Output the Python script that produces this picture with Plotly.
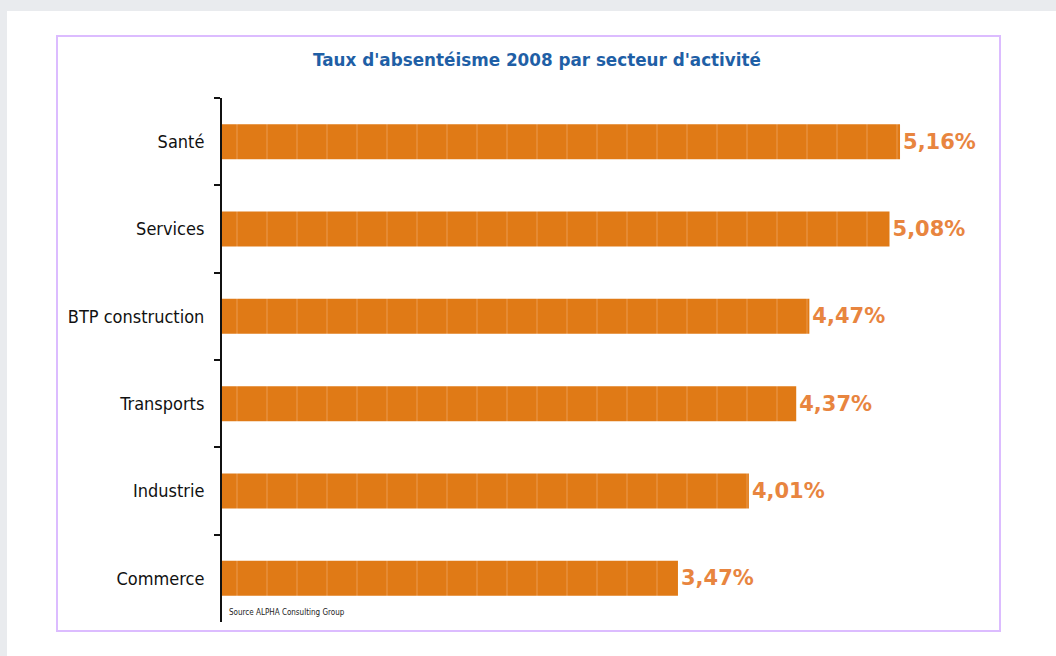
import plotly.graph_objects as go

# Absenteeism rate by business sector, 2008 (%)
sectors = ["Santé", "Services", "BTP construction", "Transports", "Industrie", "Commerce"]
rates = [5.16, 5.08, 4.47, 4.37, 4.01, 3.47]
rate_labels = [f"{v:.2f}".replace(".", ",") + "%" for v in rates]

W, H = 1056, 656
L, R, T, B = 222, 56, 98, 34
PW, PH = W - L - R, H - T - B


def px_x(px):
    return (px - L) / PW


def px_y(py):
    return 1 - (py - T) / PH


BAR = "#E07A16"

fig = go.Figure(
    go.Bar(
        x=rates,
        y=sectors,
        orientation="h",
        marker=dict(
            color=BAR,
            line=dict(width=0),
            pattern=dict(shape="|", size=30, solidity=0.05, fgcolor="#EDA463"),
        ),
        text=rate_labels,
        textposition="outside",
        textfont=dict(family="DejaVu Sans", size=21, color="#E8853F", weight="bold"),
        cliponaxis=False,
        hoverinfo="skip",
    )
)

shapes = [
    # white page over the grey backdrop
    dict(type="rect", xref="paper", yref="paper", layer="below",
         x0=px_x(7), x1=px_x(W + 5), y0=px_y(H + 5), y1=px_y(11),
         fillcolor="white", line=dict(width=0)),
    # chart frame
    dict(type="rect", xref="paper", yref="paper", layer="below",
         x0=px_x(57), x1=px_x(1000), y0=px_y(631), y1=px_y(36),
         fillcolor="rgba(0,0,0,0)", line=dict(color="#DCBCFF", width=2)),
]

annotations = [
    dict(text="<b>Taux d'absentéisme 2008 par secteur d'activité</b>",
         xref="paper", yref="paper", x=px_x(537), y=px_y(60),
         xanchor="center", yanchor="middle", showarrow=False,
         font=dict(family="DejaVu Sans", size=16.8, color="#1F5FA6")),
    dict(text="Source ALPHA Consulting Group",
         xref="paper", yref="paper", x=px_x(227), y=px_y(612),
         xanchor="left", yanchor="middle", showarrow=False,
         font=dict(family="DejaVu Sans Condensed", size=8, color="#222222")),
]

fig.update_layout(
    width=W, height=H,
    margin=dict(l=L, r=R, t=T, b=B),
    paper_bgcolor="#E9EBEE",
    plot_bgcolor="rgba(0,0,0,0)",
    showlegend=False,
    bargap=0.6,
    shapes=shapes,
    annotations=annotations,
    xaxis=dict(range=[0, PW / 131.4], visible=False, fixedrange=True),
    yaxis=dict(
        autorange="reversed",
        showline=True, linecolor="#111111", linewidth=2,
        ticks="outside", tickson="boundaries", ticklen=6, tickwidth=2, tickcolor="#111111",
        ticklabelstandoff=12,
        tickfont=dict(family="DejaVu Sans Condensed", size=18, color="#111111"),
        showgrid=False, zeroline=False, fixedrange=True,
    ),
)

fig.write_html("out.html")
